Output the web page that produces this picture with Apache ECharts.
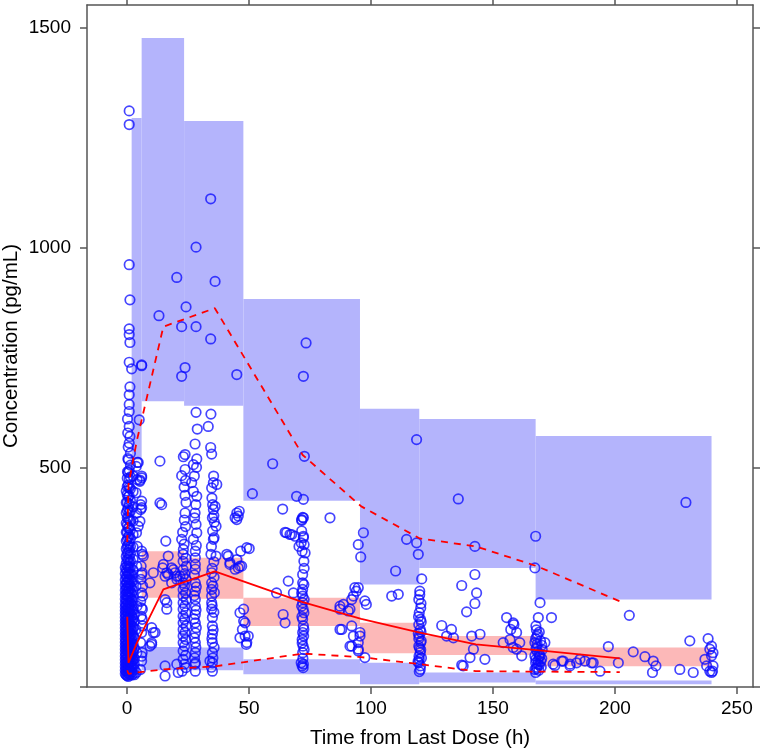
<!DOCTYPE html>
<html>
<head>
<meta charset="utf-8">
<script src="https://cdn.jsdelivr.net/npm/echarts@6/dist/echarts.min.js"></script>
<style>html,body{margin:0;padding:0;background:#fff}#c{width:760px;height:750px}</style>
</head>
<body>
<div id="c"></div>
<script>
// ---- axis ticks ----
const X_TICKS = [0, 50, 100, 150, 200, 250];
const Y_TICKS = [0, 500, 1000, 1500];
const Y_LABELS = [500, 1000, 1500];

// ---- prediction-interval bins (x edges) ----
const BIN_EDGES = [1.9, 6, 23.4, 47.7, 95.5, 119.8, 167.5, 239.6];
// 95th percentile PI (lower, upper)
const P95_LO = [517, 650, 640, 424, 233, 271, 199];
const P95_HI = [1295, 1477, 1288, 883, 633, 610, 571];
// median PI
const P50_LO = [null, 203, 201, 139, 77, 73, 47];
const P50_HI = [null, 309, 294, 203, 146, 116, 90];
// 5th percentile PI
const P05_LO = [null, 38, 38, 29, 6, 10, 6];
const P05_HI = [null, 91, 90, 63, 55, 33, 15];

// ---- observed percentiles ----
const X_LINE = [0.1, 0.6, 4, 14.9, 36, 72, 96, 120, 143, 168, 202];
const OBS_P95 = [330, 460, 560, 820, 862, 528, 411, 338, 320, 275, 195];
const OBS_P50 = [160, 55, 100, 222, 263, 193, 155, 124, 97, 84, 65];
const OBS_P05 = [38, 30, 33, 40, 47, 76, 68, 52, 36, 35, 34];

// ---- observations [time, conc] ----
const OBS_T0 = [
[-0.3,27],[-0.3,36],[-0.3,45],[-0.3,55],[-0.3,64],[-0.3,74],[-0.3,85],[-0.3,95],[-0.3,106],[-0.3,117],[-0.3,128],[-0.3,139],[-0.3,151],[-0.3,162],[-0.3,174],[-0.3,186],[-0.3,198],[-0.3,211],[-0.3,224],[-0.3,237],[-0.3,251],[-0.3,266],[-0.3,281],[-0.3,297],[-0.3,314],[-0.3,332],[-0.3,352],[-0.3,373],[-0.3,396],[-0.3,420],[-0.3,446],
[0.5,24],[0.5,31],[0.5,40],[0.5,50],[0.5,59],[0.5,69],[0.5,80],[0.5,90],[0.5,100],[0.5,111],[0.5,122],[0.5,133],[0.5,145],[0.5,156],[0.5,168],[0.5,180],[0.5,192],[0.5,205],[0.5,217],[0.5,230],[0.5,244],[0.5,258],[0.5,273],[0.5,289],[0.5,305],[0.5,322],[0.5,341],[0.5,362],[0.5,384],[0.5,408],[0.5,433],[0.5,460],[0.5,488],[0.5,517],[0.5,546],
[1.4,29],[1.4,38],[1.4,47],[1.4,57],[1.4,67],[1.4,77],[1.4,87],[1.4,98],[1.4,109],[1.4,120],[1.4,131],[1.4,142],[1.4,154],[1.4,166],[1.4,178],[1.4,190],[1.4,203],[1.4,216],[1.4,229],[1.4,243],[1.4,257],[1.4,272],[1.4,287],[1.4,303],[1.4,320],[1.4,338],[1.4,357],[1.4,378],[1.4,400],[1.4,424],[1.4,451],[1.4,478],[1.4,505],[1.4,532],
[0.9,1311],[0.9,1280],[0.9,961],[1.2,881],[0.9,815],[0.9,802],[1.2,784],[0.9,739],[1.9,724],[1.2,683],[0.9,665],[0.9,643],[0.9,627],[0.9,593],[1.2,570],[0.9,555],[0.2,610],[0.3,578],[0.4,520],[0.2,490]
];
const OBS_T0_DENSE = [
[-0.7,30],[-0.7,38],[-0.7,46],[-0.7,54],[-0.7,62],[-0.7,70],[-0.7,78],[-0.7,86],[-0.7,94],[-0.7,102],[-0.7,110],[-0.7,118],[-0.7,126],[-0.7,134],[-0.7,142],[-0.7,150],[-0.7,158],[-0.7,166],[-0.7,174],[-0.7,182],[-0.7,190],[-0.7,200],[-0.7,210],[-0.7,220],[-0.7,232],[-0.7,244],[-0.7,258],[-0.7,272],
[0.1,26],[0.1,33],[0.1,41],[0.1,49],[0.1,57],[0.1,65],[0.1,73],[0.1,81],[0.1,89],[0.1,97],[0.1,105],[0.1,113],[0.1,121],[0.1,129],[0.1,137],[0.1,145],[0.1,153],[0.1,161],[0.1,170],[0.1,179],[0.1,188],[0.1,197],[0.1,207],[0.1,217],[0.1,227],[0.1,238],[0.1,250],[0.1,262],[0.1,275],[0.1,290],
[0.1,305],[0.1,320],[0.1,336],[0.1,352],[0.1,368],[0.1,385],[0.1,402],[0.1,420],[0.1,438],[0.1,456],[0.1,475],
[0.9,28],[0.9,35],[0.9,43],[0.9,52],[0.9,60],[0.9,68],[0.9,76],[0.9,84],[0.9,93],[0.9,101],[0.9,109],[0.9,117],[0.9,125],[0.9,134],[0.9,142],[0.9,150],[0.9,159],[0.9,167],[0.9,176],[0.9,185],[0.9,194],[0.9,203],[0.9,213],[0.9,223],[0.9,234],[0.9,245],[0.9,257],[0.9,269],[0.9,282],[0.9,296],[0.9,312],[0.9,328],[0.9,345],
[0.9,362],[0.9,380],[0.9,398],[0.9,416],[0.9,435],[0.9,454],[0.9,473],[0.9,493],
[1.9,27],[1.9,34],[1.9,42],[1.9,50],[1.9,58],[1.9,66],[1.9,74],[1.9,82],[1.9,90],[1.9,100],[1.9,110],[1.9,120],[1.9,130],[1.9,140],[1.9,150],[1.9,162],[1.9,174],[1.9,186],[1.9,198],[1.9,212],[1.9,226],[1.9,240],[1.9,255],
[3,28],[3,40],[3,52],[3,64],[3,88],[3,112],[3,150],[3,165]
];
const OBS_T4 = [
[2.5,30],[2.5,45],[2.5,62],[2.5,80],[2.5,98],[2.5,117],[2.5,136],[2.5,156],[2.5,176],[2.5,197],[2.5,219],[2.5,242],[2.5,266],[2.5,291],[2.5,318],[2.5,347],[2.5,378],[2.5,410],[2.5,445],[2.5,480],
[3.8,33],[4.0,78],[3.6,131],[4.1,184],[3.7,230],[4.0,275],[4.2,320],[3.9,351],[4.0,396],[3.7,442],[4.1,472],[3.8,502],[4.6,366],[4.6,511],[4.2,511],
[5,608],[6,731],[6,733],[6,480],[5.3,471],[5.6,415],[6,408],[5.3,377],[6,309],[6.7,298],[6,423],[5.6,404],[6,476],[5.3,468],
[5.8,275],[6.2,260],[5.7,245],[6.4,230],[6,214],[5.6,195],[6.3,177],[5.8,161],[6.4,139],[6,124],[5.6,101],[6.2,78],[6,59],[5.5,40],[6.3,302],[6,256],[6.4,207],[5.9,180],[6.2,154],[6,70],
[9.4,237],[10.1,135],[9.4,93],[11.5,124],[10.1,97],[10.8,124],[10.1,101],[10.8,260]
];
const OBS_T15 = [
[13.1,845],[13.5,514],[13.5,419],[14.2,415],[15.9,332],[16.9,298],[14.6,271],[16.3,260],[19,267],[20.4,252],[16.9,256],
[18.3,271],[19.7,260],[21.7,252],[20.4,245],[18.3,237],[15.6,199],[16.3,192],[16.3,177],[14.9,279],[15.6,252],
[15.6,48],[20.4,52],[21,33],[15.6,25],[20.4,932]
];
const OBS_T24 = [
[22.4,820],[22.4,707],[24.2,865],[23.8,727],
[23.8,529],[23.1,524],[22.4,481],[23.8,495],[23.8,436],[23.8,396],[22.8,352],[22.4,336],[23.1,313],[23,302],[23,286],[23,267],
[23,252],[23,237],[23,222],[23,207],[23,192],[23,177],[23,161],[23,146],[23,131],[23,116],[23,101],[23,82],[23,63],[22.6,36],
[24,470],[23.4,455],[24.2,420],[23.5,380],[24,365],[23.4,325],[24.1,293],[24.3,275],[23.7,258],[24.2,245],[23.6,230],[24,214],
[24.3,199],[23.7,184],[24.1,169],[23.6,154],[24.2,139],[23.8,124],[24.1,108],[23.6,93],[24,72],[23.6,52],[24.1,44]
];
const OBS_T28 = [
[28.3,1001],[28.3,820],[28.3,625],[28.8,587],[27.9,553],[28.6,519],[27.2,506],[26.5,465],[27.2,445],[28.6,434],[27.9,396],
[28.3,370],[28.6,351],[27.2,336],[28,309],[28,294],[28,279],[28,268],[28,237],[28,218],[28,199],[28,184],[28,165],[28,146],
[28,123],[28,101],[28,78],[28,55],[28,36],[27.9,52],
[28.5,500],[27.6,480],[28.2,415],[27.7,385],[28.4,322],[27.6,255],[28.4,228],[27.6,208],[28.3,175],[27.5,155],[28.4,135],[27.6,112],[28.2,90],[27.7,66]
];
const OBS_T36 = [
[34.3,1111],[36.1,923],[34.3,792],[34.4,621],[33.3,593],[34.3,545],[34.7,530],[35.4,465],[36.8,461],[34.7,453],[35.1,415],
[36.1,411],[35.4,404],[35.6,390],[35,385],[36.5,366],[35.1,355],[35.7,340],[35.4,336],[34.4,302],[36.5,298],[34.7,260],
[34.7,237],[34.7,222],[34.7,207],[34.7,192],[34.7,177],[35,158],[35,139],[35,120],[35,101],[35,78],[35,55],[35,36],[34,59],
[35.5,480],[34.8,430],[35.8,375],[34.6,320],[35.6,285],[34.9,270],[35.7,250],[35.2,230],[35.8,215],[34.9,185],[35.6,170],[35.3,130],[34.8,110],[35.7,90],[35.2,66],[34.6,45]
];
const OBS_T48 = [
[45,711],[51.4,440],[40.9,302],[42.2,283],[45,290],[46.3,275],[44.3,268],[49.1,317],[44.3,385],[45,396],[45.6,389],[45,381],
[46,400],[50.1,315],[46.6,309],[41.5,298],[42.2,279],[45.6,271],[47,275],[46.3,169],[47.8,150],[47.3,131],[46.3,112],
[49.1,101],[48.4,146],[49.7,116],[48.9,97],[47.8,177],[48.4,116]
];
const OBS_T72 = [
[59.7,508],[63.8,405],[64.8,352],[66.8,347],[68.9,343],[65.4,351],[67.5,347],[61.3,214],[64,165],[64.8,146],[66.1,241],[68.2,214],[69.5,434],[83.2,385],
[73.4,783],[72.3,707],[72.7,525],[72.3,427],[72,386],[71.6,381],[72.3,385],[71.6,379],[71.6,355],[72.3,340],[71.4,328],[72.3,343],
[70.5,320],[72.6,324],[71.8,309],[73,305],[72.5,286],[72,256],[72,237],[72.5,233],[72,222],[71.6,214],[72,207],[72.6,199],[72,192],
[71.6,184],[72.2,177],[72.5,169],[72,154],[72.3,139],[72,124],[72.4,116],[71.8,108],[72.2,93],[72,78],[71.4,55],[72.3,52],[71.8,48],[72.2,44],
[72.6,270],[71.7,160],[72.5,131],[71.8,100],[72.6,85],[72.1,65]
];
const OBS_T96 = [
[87.3,184],[88.7,188],[92.1,199],[94.8,226],[94,218],[98.1,188],[87.3,131],[92.1,139],[92.8,116],[95.5,116],[92.1,93],[94.8,86],
[97.5,67],[96.9,351],[94.8,324],[95.8,296],[93.4,226],[92.8,207],[97.5,196],[90.7,173],[88,131],[95.5,124],[94.8,101],[91.4,93],[94.8,82],[87.3,177],[91.4,177]
];
const OBS_T120 = [
[118.7,563],[114.6,336],[118.7,328],[119.4,302],[110.1,264],[108.5,207],[111.2,211],[120.8,246],
[120,218],[119.6,199],[120.4,180],[119.8,169],[120.3,154],[119.6,142],[120.2,131],[119.8,116],[120.4,101],[119.6,93],[120.2,78],[119.8,63],[120.3,48],[119.5,55],
[120,210],[120.5,190],[119.5,160],[120.5,125],[119.6,110],[120.4,85],[119.7,70],[120.2,40],[119.8,35],
[119.3,58],[120.7,66],[119.9,88],[120.6,105],[119.4,122],[120.6,148]
];
const OBS_T144 = [
[135.8,428],[142.6,320],[142.6,256],[137.2,231],[143.3,214],[142.6,190],[139.2,171],[129,140],[133,131],[133.8,112],[131,116],
[141.3,116],[144.7,120],[142,86],[140.6,67],[146.7,63],[137.2,50],[137.8,48],
[155.6,158],[158.3,146],[159.7,124],[157,108],[154.2,101],[161,101],[159.7,86],[161.8,71],[158.3,90],[158.6,142],[157.3,131]
];
const OBS_T168 = [
[167.5,343],[167.2,271],[169.3,192],[168.6,158],[174,158],[167.6,139],[168.3,120],[171.3,101],[167.2,101],[167.6,86],[167.2,71],
[167.5,55],[167.2,40],[167.5,33],[169.3,71],
[168,45],[168.5,60],[169,75],[168,90],[169.5,105],[168,115],[167.8,130],[169,50],[170,65],[168.2,80],[170,95],[167.5,110],[169,125],[168.8,38],[170.2,85],
[167.8,42],[168.4,52],[167.6,63],[168.9,68],[168.1,98],[169.6,58],[169.8,45]
];
const OBS_T200 = [
[175.4,49],[178.8,59],[181.6,48],[184.3,55],[187.7,59],[174.7,52],[178.2,59],[181.6,52],[185.7,63],[191.1,55],[193.9,36],
[201.4,55],[197.3,92],[205.9,163],[190.4,55],
[207.5,80],[212.3,69],[215.7,59],[216.8,48],[215.4,33],[226.6,40],[232.1,33],[229.1,420]
];
const OBS_T240 = [
[230.7,105],[238.2,110],[238.9,86],[239.6,71],[236.9,63],[237.6,48],[238.9,36],[240,36],[239.6,33],[240.2,48],[240.2,78],[239.6,93]
];

// ---- build ----
const OBS = [].concat(OBS_T0, OBS_T0_DENSE, OBS_T4, OBS_T15, OBS_T24, OBS_T28, OBS_T36, OBS_T48, OBS_T72, OBS_T96, OBS_T120, OBS_T144, OBS_T168, OBS_T200, OBS_T240);

function bandRows(lo, hi) {
  const rows = [];
  for (let i = 0; i < lo.length; i++) {
    if (lo[i] == null || hi[i] == null) continue;
    rows.push([BIN_EDGES[i], BIN_EDGES[i + 1], lo[i], hi[i]]);
  }
  return rows;
}
function bandSeries(rows, color) {
  return {
    type: 'custom', silent: true, z: 1, clip: true,
    encode: { x: [0, 1], y: [2, 3] },
    renderItem: function (params, api) {
      const p0 = api.coord([api.value(0), api.value(3)]);
      const p1 = api.coord([api.value(1), api.value(2)]);
      return { type: 'rect', shape: { x: p0[0], y: p0[1], width: p1[0] - p0[0], height: p1[1] - p0[1] }, style: { fill: color } };
    },
    data: rows
  };
}
function linePairs(ys) { return X_LINE.map((x, i) => [x, ys[i]]); }

const FONT = '"Liberation Sans", Arial, sans-serif';
const AXC = '#555';
const plain = v => String(v);

const chart = echarts.init(document.getElementById('c'), null, { renderer: 'canvas' });
chart.setOption({
  animation: false,
  backgroundColor: '#fff',
  grid: { left: 87, right: 7, top: 5, bottom: 63, containLabel: false, outerBoundsMode: 'none' },
  xAxis: [{
    type: 'value', min: -16.4, max: 256.6, position: 'bottom',
    name: 'Time from Last Dose (h)', nameLocation: 'middle', nameGap: 41, nameMoveOverlap: false,
    nameTextStyle: { fontFamily: FONT, fontSize: 20.5, color: '#000' },
    axisLine: { show: true, onZero: false, lineStyle: { color: AXC, width: 1.5 } },
    axisTick: { show: true, length: 7, customValues: X_TICKS, lineStyle: { color: AXC, width: 1.5 } },
    axisLabel: { customValues: X_TICKS, formatter: plain, fontFamily: FONT, fontSize: 19, color: '#000', margin: 12 },
    splitLine: { show: false }
  }, {
    type: 'value', min: -16.4, max: 256.6, position: 'top',
    axisLine: { show: true, onZero: false, lineStyle: { color: AXC, width: 1.5 } },
    axisTick: { show: true, length: 5, customValues: X_TICKS, lineStyle: { color: AXC, width: 1.5 } },
    axisLabel: { show: false },
    splitLine: { show: false }
  }],
  yAxis: [{
    type: 'value', min: 0, max: 1552, position: 'left',
    name: 'Concentration (pg/mL)', nameLocation: 'middle', nameGap: 65, nameMoveOverlap: false,
    nameTextStyle: { fontFamily: FONT, fontSize: 20.5, color: '#000' },
    axisLine: { show: true, onZero: false, lineStyle: { color: AXC, width: 1.5 } },
    axisTick: { show: true, length: 7, customValues: Y_TICKS, lineStyle: { color: AXC, width: 1.5 } },
    axisLabel: { customValues: Y_LABELS, formatter: plain, fontFamily: FONT, fontSize: 19, color: '#000', margin: 16 },
    splitLine: { show: false }
  }, {
    type: 'value', min: 0, max: 1552, position: 'right',
    axisLine: { show: true, onZero: false, lineStyle: { color: AXC, width: 1.5 } },
    axisTick: { show: true, length: 7, customValues: Y_TICKS, lineStyle: { color: AXC, width: 1.5 } },
    axisLabel: { show: false },
    splitLine: { show: false }
  }],
  series: [
    bandSeries(bandRows(P95_LO, P95_HI), '#b4b4fc'),
    bandSeries(bandRows(P05_LO, P05_HI), '#b4b4fc'),
    bandSeries(bandRows(P50_LO, P50_HI), '#fcb8b8'),
    {
      type: 'scatter', z: 3, data: OBS, symbol: 'circle', symbolSize: 9.5, silent: true,
      itemStyle: { color: 'rgba(0,0,0,0)', borderColor: 'rgba(10,10,255,0.95)', borderWidth: 1.7 }
    },
    { type: 'line', z: 4, data: linePairs(OBS_P50), showSymbol: false, silent: true, lineStyle: { color: '#ff0000', width: 1.8 } },
    { type: 'line', z: 4, data: linePairs(OBS_P95), showSymbol: false, silent: true, lineStyle: { color: '#ff0000', width: 1.8, type: [7, 6] } },
    { type: 'line', z: 4, data: linePairs(OBS_P05), showSymbol: false, silent: true, lineStyle: { color: '#ff0000', width: 1.8, type: [7, 6] } }
  ]
});
</script>
</body>
</html>
